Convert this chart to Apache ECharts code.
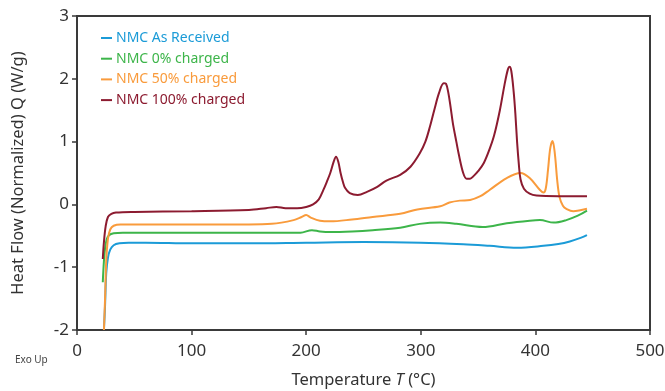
<!DOCTYPE html>
<html>
<head>
<meta charset="utf-8">
<script src="https://cdn.jsdelivr.net/npm/echarts@6/dist/echarts.min.js"></script>
<style>
  html, body { margin: 0; padding: 0; background: #fff; }
  #chart { width: 665px; height: 391px; }
</style>
</head>
<body>
<div id="chart"></div>
<script>
// series names
const seriesNames = ['NMC As Received', 'NMC 0% charged', 'NMC 50% charged', 'NMC 100% charged'];
const seriesColors = ['#1b9bd7', '#3db54a', '#f99b3c', '#8c1b30'];

// NMC As Received
const asRecT = [23.5, 24.5, 25.5, 27, 29, 32, 37, 45, 60, 100, 150, 200, 250, 300, 337, 360, 384, 407, 420, 430, 440, 445];
const asRecQ = [-2.0, -1.6, -1.1, -0.85, -0.72, -0.65, -0.62, -0.61, -0.61, -0.62, -0.62, -0.61, -0.6, -0.61, -0.635, -0.66, -0.69, -0.66, -0.63, -0.59, -0.53, -0.49];

// NMC 0% charged
const ch0T = [22.5, 23.5, 24.5, 26, 28, 32, 40, 100, 150, 195, 205, 212, 221, 240, 258, 282, 299, 317, 331, 354, 375, 395, 404, 416, 427, 437, 445];
const ch0Q = [-1.24, -0.9, -0.7, -0.55, -0.49, -0.46, -0.45, -0.45, -0.45, -0.45, -0.41, -0.43, -0.44, -0.43, -0.41, -0.37, -0.31, -0.29, -0.31, -0.36, -0.30, -0.26, -0.25, -0.29, -0.25, -0.18, -0.10];

// NMC 50% charged
const ch50T = [23.5, 24.5, 25.5, 27, 29, 32, 38, 100, 150, 170, 189, 196, 200, 204, 212, 221, 240, 258, 282, 297, 317, 325, 334, 343, 352, 360, 375, 387, 395, 404, 407, 409, 411, 413, 415, 417, 419, 421, 424, 427, 433, 440, 445];
const ch50Q = [-2.0, -1.5, -0.9, -0.55, -0.4, -0.34, -0.32, -0.32, -0.32, -0.31, -0.25, -0.2, -0.17, -0.21, -0.26, -0.27, -0.24, -0.20, -0.15, -0.08, -0.03, 0.03, 0.06, 0.07, 0.13, 0.23, 0.42, 0.50, 0.42, 0.23, 0.19, 0.25, 0.55, 0.9, 1.01, 0.8, 0.39, 0.12, -0.02, -0.07, -0.11, -0.09, -0.07];

// NMC 100% charged
const ch100T = [22.5, 23.5, 25, 27, 30, 34, 50, 100, 150, 165, 174, 182, 192, 200, 206, 211, 215, 218, 221, 224, 226, 228, 230, 232, 234, 238, 245, 253, 262, 270, 282, 291, 299, 304, 308, 312, 316, 320, 322, 324, 326, 328, 331, 333, 337, 340, 343, 346, 350, 355, 360, 364, 369, 373, 376, 377.5, 379, 381, 382.5, 384, 385.5, 387, 390, 395, 401, 420, 445];
const ch100Q = [-0.87, -0.6, -0.35, -0.2, -0.15, -0.13, -0.12, -0.11, -0.09, -0.06, -0.04, -0.06, -0.06, -0.04, 0.0, 0.08, 0.23, 0.36, 0.50, 0.68, 0.76, 0.68, 0.5, 0.36, 0.26, 0.18, 0.15, 0.2, 0.28, 0.38, 0.47, 0.6, 0.81, 1.0, 1.24, 1.52, 1.78, 1.93, 1.92, 1.78, 1.55, 1.29, 1.0, 0.81, 0.50, 0.41, 0.41, 0.45, 0.53, 0.66, 0.88, 1.1, 1.5, 1.9, 2.15, 2.19, 2.12, 1.8, 1.45, 1.0, 0.65, 0.4, 0.25, 0.17, 0.14, 0.13, 0.13];

const allT = [asRecT, ch0T, ch50T, ch100T];
const allQ = [asRecQ, ch0Q, ch50Q, ch100Q];

const FONT = 'Noto Sans';

const chart = echarts.init(document.getElementById('chart'));

const series = seriesNames.map((name, i) => ({
  name: name,
  type: 'line',
  data: allT[i].map((t, j) => [t, allQ[i][j]]),
  showSymbol: false,
  smooth: 0.35,
  lineStyle: { width: 2, color: seriesColors[i] },
  itemStyle: { color: seriesColors[i] },
  z: 3 + i
}));

const option = {
  animation: false,
  textStyle: { fontFamily: FONT },
  grid: {
    left: 77, right: 15, top: 16, bottom: 61,
    outerBoundsMode: 'none',
    containLabel: false,
    show: true, borderColor: '#3a3a3a', borderWidth: 2
  },
  legend: {
    orient: 'vertical',
    left: 96, top: 26,
    itemWidth: 11, itemHeight: 2, itemGap: 6.7,
    icon: 'rect',
    data: seriesNames.map((n, i) => ({ name: n, textStyle: { color: seriesColors[i] } })),
    textStyle: { fontFamily: FONT, fontSize: 14, padding: [0, 0, 0, -1] }
  },
  xAxis: {
    type: 'value', min: 0, max: 500, interval: 100,
    name: '{n|Temperature }{i|T}{n| (°C)}',
    nameLocation: 'middle', nameGap: 42,
    nameTextStyle: {
      rich: {
        n: { fontFamily: FONT, fontSize: 16.5, color: '#333' },
        i: { fontFamily: FONT, fontSize: 16.5, color: '#333', fontStyle: 'italic' }
      }
    },
    axisLine: { onZero: false, lineStyle: { color: '#3a3a3a', width: 2 } },
    axisTick: { show: true, length: 5, lineStyle: { color: '#3a3a3a', width: 1.5 } },
    axisLabel: { fontSize: 17, color: '#333', margin: 13, fontFamily: FONT },
    splitLine: { show: false }
  },
  yAxis: {
    type: 'value', min: -2, max: 3, interval: 1,
    name: 'Heat Flow (Normalized) Q (W/g)',
    nameLocation: 'middle', nameGap: 50,
    nameTextStyle: { fontFamily: FONT, fontSize: 16.5, color: '#333' },
    axisLine: { onZero: false, lineStyle: { color: '#3a3a3a', width: 2 } },
    axisTick: { show: true, length: 5, lineStyle: { color: '#3a3a3a', width: 1.5 } },
    axisLabel: { fontSize: 17, color: '#333', margin: 8, fontFamily: FONT },
    splitLine: { show: false }
  },
  graphic: [{
    type: 'text', left: 15, top: 355,
    style: { text: 'Exo Up', fontFamily: FONT, fontSize: 10, fill: '#444' }
  }],
  series: series
};

chart.setOption(option);
</script>
</body>
</html>
